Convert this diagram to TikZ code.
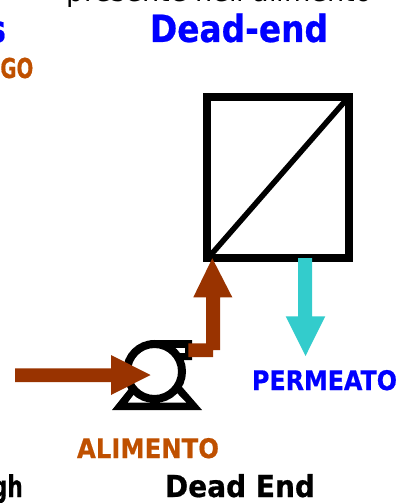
\documentclass[tikz,border=0pt]{standalone}
\usepackage{fontspec}
\setmainfont{DejaVu Sans}[BoldFeatures={FakeBold=0.6}]
\definecolor{feed}{HTML}{993300}
\definecolor{lab}{HTML}{BF5000}
\definecolor{perm}{HTML}{33CCCC}
\definecolor{ttl}{HTML}{0000FF}
\tikzset{
 lbl/.style={inner sep=0pt,font=\bfseries},
 feedarrow/.style={fill=feed,draw=none},
}
\begin{document}
\begin{tikzpicture}[x=1pt,y=-1pt]
\useasboundingbox (0,0) rectangle (399,503);
\clip (0,0) rectangle (399,503);
% membrane
\draw[black,line width=8pt] (206.6,97.3) rectangle (348.8,257.5);
\draw[black,line width=5.5pt] (209,257) -- (346,100);
% pump
\fill[black] (112,410) -- (136,380) -- (176,380) -- (202,410) -- cycle;
\fill[white] (128,402.5) -- (150,402.5) -- (138,389) -- cycle;
\fill[white] (186,402.5) -- (160,402.5) -- (172,388) -- cycle;
\fill[black] (150,340) -- (192,340) -- (192,360) -- (170,360) -- cycle;
\fill[white] (170,348) -- (185,348) -- (185,353) -- (170,353) -- cycle;
\draw[black,line width=8pt,fill=white] (154.5,371.5) circle (27.5);
% feed arrows
\fill[feedarrow] (15,368.3) -- (111,368.3) -- (111,355) -- (150.5,375) -- (111,395) -- (111,382) -- (15,382) -- cycle;
\fill[feedarrow] (212.3,258.3) -- (232.3,297.3) -- (220,297.3) -- (220,350) -- (213,350) -- (213,357) -- (188.3,357) -- (188.3,343.3) -- (206,343.3) -- (206,297.3) -- (193.3,297.3) -- cycle;
% permeate
\fill[perm] (298,258) -- (312,258) -- (312,316.3) -- (325.3,316.3) -- (305.5,356) -- (285.7,316.3) -- (298,316.3) -- cycle;
% text
\node[inner sep=0pt,anchor=base] (t1) at (219.5,2) {\resizebox{305pt}{22pt}{presente nell'alimento}};
\node[lbl,anchor=base,text=ttl] (t2) at (239,42) {\resizebox{178pt}{28.5pt}{Dead-end}};
\node[lbl,anchor=base east,text=ttl] (t3) at (6,42) {\scalebox{.75}[1]{\fontsize{37}{37}\selectfont s}};
\node[lbl,anchor=base east,text=lab] (t4) at (33.5,78) {\scalebox{.72}[1]{\fontsize{27.4}{28}\selectfont GO}};
\node[lbl,anchor=base,text=lab] (t5) at (148,458) {\resizebox{142pt}{20pt}{ALIMENTO}};
\node[lbl,anchor=base,text=ttl] (t6) at (324.5,390) {\resizebox{145pt}{20pt}{PERMEATO}};
\node[lbl,anchor=base] (t7) at (240,497) {\resizebox{150pt}{23pt}{Dead End}};
\node[lbl,anchor=base east] (t8) at (23,497) {\scalebox{.72}[1]{\fontsize{30}{30}\selectfont gh}};
\end{tikzpicture}
\end{document}
